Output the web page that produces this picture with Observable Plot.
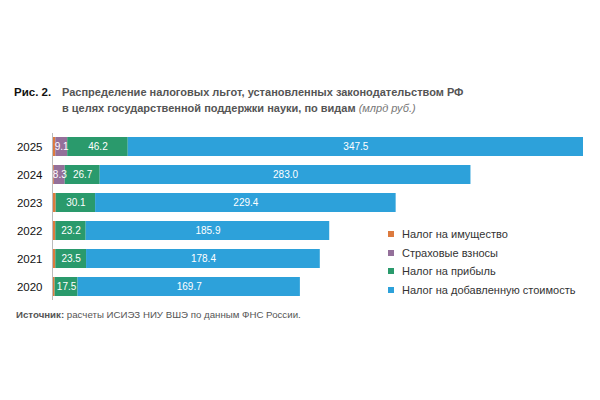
<!DOCTYPE html>
<html><head><meta charset="utf-8">
<script src="https://cdn.jsdelivr.net/npm/d3@7"></script>
<script src="https://cdn.jsdelivr.net/npm/@observablehq/plot@0.6"></script>
<style>
body{margin:0;background:#fff;font-family:"Liberation Sans",Arial,sans-serif;}
#wrap{position:relative;width:600px;height:400px;overflow:hidden;}
#title{position:absolute;left:14px;top:84px;font-size:11px;font-weight:bold;color:#555;line-height:16px;white-space:nowrap;}
#title .num{position:absolute;left:0;top:0;color:#111;font-size:11.5px;}
#title .txt{position:absolute;left:48px;top:0;white-space:nowrap;}
#title i{font-weight:normal;color:#777;}
#source{position:absolute;left:16px;top:309px;font-size:9.7px;color:#555;white-space:nowrap;}
#legend{position:absolute;left:388px;top:227px;font-size:11px;color:#333;}
#legend div{height:18.5px;line-height:14px;white-space:nowrap;}
#legend span.sw{display:inline-block;width:6px;height:6px;margin-right:8px;vertical-align:1px;}
#chart{position:absolute;left:0;top:0;}
</style></head>
<body><div id="wrap">
<div id="chart"></div>
<div id="title"><span class="num">Рис. 2.</span><span class="txt">Распределение налоговых льгот, установленных законодательством РФ<br>в целях государственной поддержки науки, по видам <i>(млрд руб.)</i></span></div>
<div id="legend"></div>
<div id="source"><b>Источник:</b> расчеты ИСИЭЗ НИУ ВШЭ по данным ФНС России.</div>
</div>
<script>
const years = ["2025","2024","2023","2022","2021","2020"];
const series = ["Налог на имущество","Страховые взносы","Налог на прибыль","Налог на добавленную стоимость"];
const colors = ["#dc7a3e","#94709a","#2a9a6c","#2da1da"];
const property = [2.5, 1.4, 2.8, 2.5, 2.5, 2.0];
const insurance = [9.1, 8.3, 0, 0, 0, 0];
const profit = [46.2, 26.7, 30.1, 23.2, 23.5, 17.5];
const vat = [347.5, 283.0, 229.4, 185.9, 178.4, 169.7];
const labelled = [false, true, true, true];

const cols = [property, insurance, profit, vat];
const data = [];
years.forEach((y, i) => cols.forEach((c, k) => data.push({year: y, type: series[k], value: c[i], show: labelled[k] && c[i] > 0})));
const maxTotal = d3.max(years.map((y, i) => d3.sum(cols, c => c[i])));

const plot = Plot.plot({
  width: 600, height: 400,
  marginTop: 128, marginBottom: 95, marginLeft: 52, marginRight: 17,
  style: {fontFamily: "Liberation Sans, Arial, sans-serif", background: "transparent"},
  x: {domain: [0, maxTotal], axis: null},
  y: {domain: years, padding: 0.32, label: null, tickSize: 0, tickPadding: 10},
  color: {domain: series, range: colors},
  marks: [
    Plot.barX(data, {x: "value", y: "year", fill: "type", order: series}),
    Plot.text(data, Plot.stackX({x: "value", y: "year", z: "type", order: series,
      text: d => d.show ? d.value.toFixed(1) : "", fill: "white", fontSize: 10})),
    Plot.ruleX([0], {stroke: "#bbb", insetTop: 5, insetBottom: 5}),
    Plot.axisY({tickSize: 0, tickPadding: 10, fontSize: 11.5, fill: "#111", label: null})
  ]
});
document.getElementById("chart").appendChild(plot);

const lg = document.getElementById("legend");
series.forEach((s, k) => {
  const d = document.createElement("div");
  d.innerHTML = `<span class="sw" style="background:${colors[k]}"></span>${s}`;
  lg.appendChild(d);
});
</script>
</body></html>
